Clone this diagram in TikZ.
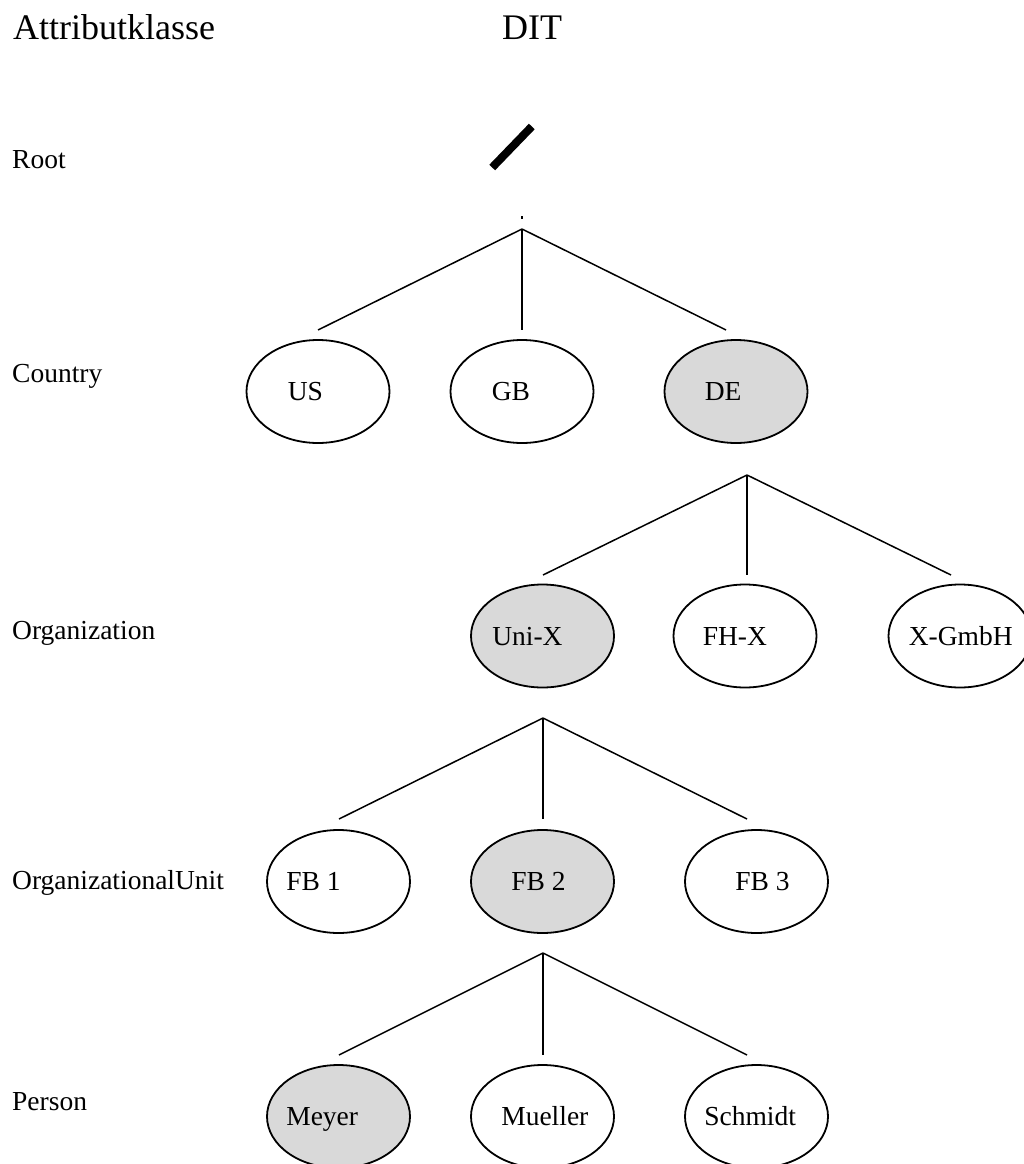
\documentclass[tikz,border=0pt]{standalone}
\usepackage{fontspec}
\setmainfont{Liberation Serif}
\usepackage{tikz}
\usetikzlibrary{shapes.geometric}
\tikzset{
	entry/.style   = {shape=ellipse, draw, line width=1.8pt, fill=white,
		minimum width=143pt, minimum height=103pt, inner sep=0pt},
	chosen/.style  = {entry, fill=gray!30},
	caption/.style = {anchor=base west, inner sep=0pt},
	heading/.style = {caption, font=\fontsize{36}{40}\selectfont},
	rootbar/.style = {shape=rectangle, fill=black, inner sep=0pt,
		minimum width=57pt, minimum height=8pt, rotate=46},
	fork/.style    = {line width=1.5pt}
}

\begin{document}
\begin{tikzpicture}
[
x                 = 1pt,
y                 = -1pt,
every node/.style = {font=\fontsize{27.5}{33}\selectfont}
]
\useasboundingbox (0,0) rectangle (1024,1164);

\node [heading] (attr) at (13,40) {Attributklasse};
\node [heading] (dit)  at (502,40) {DIT};

\node [caption] (lv-root)    at (12,168)  {Root};
\node [caption] (lv-country) at (12,382)  {Country};
\node [caption] (lv-org)     at (12,639)  {Organization};
\node [caption] (lv-unit)    at (12,889)  {OrganizationalUnit};
\node [caption] (lv-person)  at (12,1110) {Person};

\node [rootbar] (root) at (512,147) {};

\node [entry]  (us) at (318,391.5) {};
\node [entry]  (gb) at (522,391.5) {};
\node [chosen] (de) at (736,391.5) {};
\node [caption] (us-t) at ([xshift=42pt, yshift=-9pt]us.west) {US};
\node [caption] (gb-t) at ([xshift=42pt, yshift=-9pt]gb.west) {GB};
\node [caption] (de-t) at ([xshift=41pt, yshift=-9pt]de.west) {DE};

\node [chosen] (unix)  at (542.5,636) {};
\node [entry]  (fhx)   at (745,636) {};
\node [entry]  (xgmbh) at (960,636) {};
\node [caption] (unix-t)  at ([xshift=22pt, yshift=-9pt]unix.west)  {Uni-X};
\node [caption] (fhx-t)   at ([xshift=30pt, yshift=-9pt]fhx.west)   {FH-X};
\node [caption] (xgmbh-t) at ([xshift=21pt, yshift=-9pt]xgmbh.west) {X-GmbH};

\node [entry]  (fb1) at (338.5,881.5) {};
\node [chosen] (fb2) at (542.5,881.5) {};
\node [entry]  (fb3) at (756.5,881.5) {};
\node [caption] (fb1-t) at ([xshift=20pt, yshift=-9pt]fb1.west) {FB 1};
\node [caption] (fb2-t) at ([xshift=41pt, yshift=-9pt]fb2.west) {FB 2};
\node [caption] (fb3-t) at ([xshift=51pt, yshift=-9pt]fb3.west) {FB 3};

\node [chosen] (meyer)   at (338.5,1116.5) {};
\node [entry]  (mueller) at (542.5,1116.5) {};
\node [entry]  (schmidt) at (756.5,1116.5) {};
\node [caption] (meyer-t)   at ([xshift=20pt, yshift=-9pt]meyer.west)   {Meyer};
\node [caption] (mueller-t) at ([xshift=31pt, yshift=-9pt]mueller.west) {Mueller};
\node [caption] (schmidt-t) at ([xshift=20pt, yshift=-9pt]schmidt.west) {Schmidt};

\coordinate (root-stub) at (522,216);
\coordinate (root-fork) at (522,229);
\coordinate (us-in)     at (318,330);
\coordinate (gb-in)     at (522,330);
\coordinate (de-in)     at (726,330);

\coordinate (de-fork)  at (747,475);
\coordinate (unix-in)  at (543,575);
\coordinate (fhx-in)   at (747,575);
\coordinate (xgmbh-in) at (951,575);

\coordinate (unix-fork) at (543,718);
\coordinate (fb1-in)    at (339,819);
\coordinate (fb2-in)    at (543,819);
\coordinate (fb3-in)    at (747,819);

\coordinate (fb2-fork)   at (543,953);
\coordinate (meyer-in)   at (339,1055);
\coordinate (mueller-in) at (543,1055);
\coordinate (schmidt-in) at (747,1055);

\draw [fork] (root-stub) -- ++(0,3);
\foreach \fork/\kids in {root-fork/{us-in,gb-in,de-in},
		de-fork/{unix-in,fhx-in,xgmbh-in},
		unix-fork/{fb1-in,fb2-in,fb3-in},
		fb2-fork/{meyer-in,mueller-in,schmidt-in}}
	\foreach \kid in \kids
		\draw [fork] (\fork) -- (\kid);
\end{tikzpicture}
\end{document}
